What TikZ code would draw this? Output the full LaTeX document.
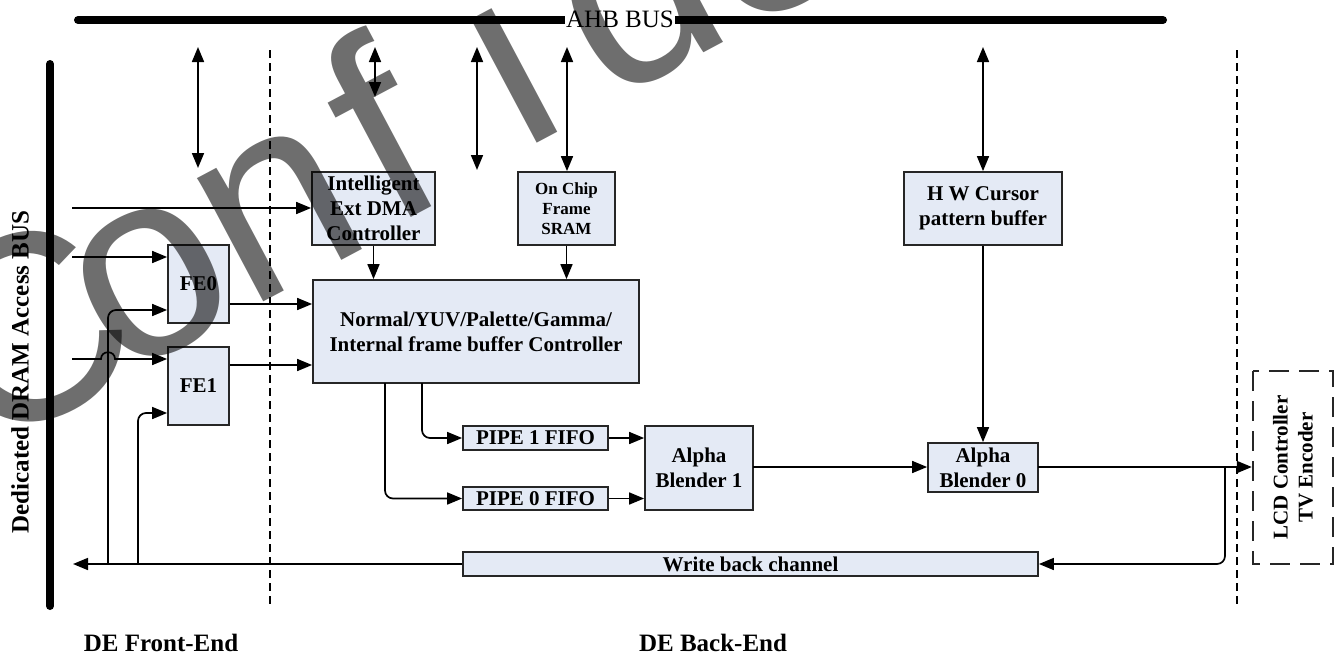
\documentclass[tikz,border=0pt]{standalone}
\usepackage{fontspec}
\setmainfont{Liberation Serif}
\newfontfamily\wmfont{Liberation Sans}
\usetikzlibrary{arrows.meta,calc}
\definecolor{boxfill}{RGB}{228,234,245}
\tikzset{
  blk/.style={draw=black!85, line width=1.8pt, fill=boxfill, inner sep=0pt, align=center,
              font=\fontsize{21}{25}\selectfont\bfseries},
  tip/.tip={Triangle[length=15pt,width=12pt]},
  conn/.style={line width=1.7pt, -tip},
  wire/.style={line width=1.7pt},
  bidir/.style={line width=1.7pt, tip-tip},
  bus/.style={line width=8pt, line cap=round},
  divider/.style={line width=1.2pt, dash pattern=on 8pt off 5pt},
  lcdbox/.style={draw=black!85, line width=2.4pt, dash pattern=on 20pt off 10pt, inner sep=0pt,
                 align=center, font=\fontsize{21}{25}\selectfont\bfseries},
  heading/.style={font=\fontsize{25}{30}\selectfont\bfseries, anchor=base},
  wm/.style={font=\wmfont\fontsize{265}{265}\selectfont, text=black, text opacity=0.57,
             rotate=28, inner sep=0pt},
}
\begin{document}
\begin{tikzpicture}[x=1pt,y=-1pt]
\useasboundingbox (0,0) rectangle (1341,654);
\clip (0,0) rectangle (1341,654);

% buses
\coordinate (ahbL) at (78,20);
\coordinate (ahbR) at (1163,20);
\draw[bus] (ahbL) -- (ahbR);
\node[fill=white, inner sep=1pt, font=\fontsize{25}{30}\selectfont] (ahb) at (620,19) {AHB BUS};
\coordinate (dramT) at (50,64);
\coordinate (dramB) at (50,606);
\draw[bus] (dramT) -- (dramB);
\node[rotate=90, font=\fontsize{25}{30}\selectfont\bfseries] (dramlbl) at (20,372) {Dedicated DRAM Access BUS};

% dividers
\coordinate (d1t) at (270,50); \coordinate (d1b) at (270,605);
\coordinate (d2t) at (1237,50); \coordinate (d2b) at (1237,605);
\draw[divider] (d1t) -- (d1b);
\draw[divider] (d2t) -- (d2b);

% blocks
\node[blk, minimum width=123, minimum height=73] (DMA) at (373.5,208.5) {Intelligent\\Ext DMA\\Controller};
\node[blk, minimum width=97, minimum height=73, font=\fontsize{17}{20}\selectfont\bfseries] (SRAM) at (566.5,208.5) {On Chip\\Frame\\SRAM};
\node[blk, minimum width=158, minimum height=73] (HW) at (983,208.5) {H W Cursor\\pattern buffer};
\node[blk, minimum width=61, minimum height=78] (FE0) at (198.5,284) {FE0};
\node[blk, minimum width=61, minimum height=78] (FE1) at (198.5,386) {FE1};
\node[blk, minimum width=326, minimum height=103] (NORM) at (476,331.5) {Normal/YUV/Palette/Gamma/\\Internal frame buffer Controller};
\node[blk, minimum width=145, minimum height=24] (P1) at (535.5,438) {PIPE 1 FIFO};
\node[blk, minimum width=145, minimum height=23] (P0) at (535.5,498.5) {PIPE 0 FIFO};
\node[blk, minimum width=108, minimum height=84] (AB1) at (699,468) {Alpha\\Blender 1};
\node[blk, minimum width=110, minimum height=49] (AB0) at (983,467.5) {Alpha\\Blender 0};
\node[blk, minimum width=575, minimum height=24] (WB) at (750.5,564) {Write back channel};
\node[lcdbox, minimum width=193, minimum height=80, rotate=90] (LCD) at (1293,467.5) {LCD Controller\\TV Encoder};

% AHB connections
\coordinate (a1t) at (198,47); \coordinate (a1b) at (198,168);
\coordinate (a2t) at (375,47); \coordinate (a2b) at (375,97);
\coordinate (a3t) at (477,47); \coordinate (a3b) at (477,170);
\coordinate (a4t) at (567,47);
\coordinate (a5t) at (983,47);
\draw[bidir] (a1t) -- (a1b);
\draw[bidir] (a2t) -- (a2b);
\draw[bidir] (a3t) -- (a3b);
\draw[bidir] (a4t) -- (a4t |- SRAM.north);
\draw[bidir] (a5t) -- (HW.north);

% DRAM bus inputs
\coordinate (in1) at (72,208);
\coordinate (in2) at (72,257);
\coordinate (in3) at (72,359);
\coordinate (hop) at (108,359);
\draw[conn] (in1) -- (in1 -| DMA.west);
\draw[conn] (in2) -- (in2 -| FE0.west);
\draw[conn] (in3) -- ($(hop)+(-7,0)$) .. controls ($(hop)+(-7,-9)$) and ($(hop)+(7,-9)$) .. ($(hop)+(7,0)$) -- (in3 -| FE1.west);

% write back return lines
\coordinate (j1) at (108,564);
\coordinate (j2) at (138,564);
\coordinate (wbEnd) at (73,564);
\draw[conn] (WB.west) -- (wbEnd);
\draw[conn, rounded corners=8pt] (j1) |- ([yshift=-26pt]FE0.west);
\draw[conn, rounded corners=8pt] (j2) |- ([yshift=-27pt]FE1.west);

% front-end to controller
\coordinate (fe0o) at ([yshift=-20pt]FE0.east);
\coordinate (fe1o) at ([yshift=21pt]FE1.east);
\draw[conn] (fe0o) -- (fe0o -| NORM.west);
\draw[conn] (fe1o) -- (fe1o -| NORM.west);
\draw[conn] (DMA.south) -- (DMA.south |- NORM.north);
\draw[conn] (SRAM.south) -- (SRAM.south |- NORM.north);

% controller to pipes
\coordinate (n1) at (422,383);
\coordinate (n0) at (385,383);
\draw[conn, rounded corners=8pt] (n1) |- (P1.west);
\draw[conn, rounded corners=8pt] (n0) |- (P0.west);
\draw[conn] (P1.east) -- (P1.east -| AB1.west);
\draw[conn] (P0.east) -- (P0.east -| AB1.west);
\coordinate (ab1o) at (753,467);
\draw[conn] (ab1o) -- (ab1o -| AB0.west);
\draw[conn] (HW.south) -- (AB0.north);
\coordinate (ab0o) at (1038,467);
\draw[conn] (ab0o) -- (ab0o -| LCD.north);
\coordinate (split) at (1225,467);
\draw[conn, rounded corners=8pt] (split) |- (WB.east);

% headings
\node[heading] (fe) at (161,651) {DE Front-End};
\node[heading] (be) at (713,651) {DE Back-End};

% watermark
\node[wm] (wmC) at (25,330) {C};
\node[wm] (wmo) at (152,283) {o};
\node[wm] (wmn) at (279,213) {n};
\node[wm] (wmf) at (378,127) {f};
\node[wm] (wmi) at (502,53) {i};
\node[wm] (wmd) at (629,-15) {d};
\node[wm] (wme) at (771,-61) {e};
\end{tikzpicture}
\end{document}
